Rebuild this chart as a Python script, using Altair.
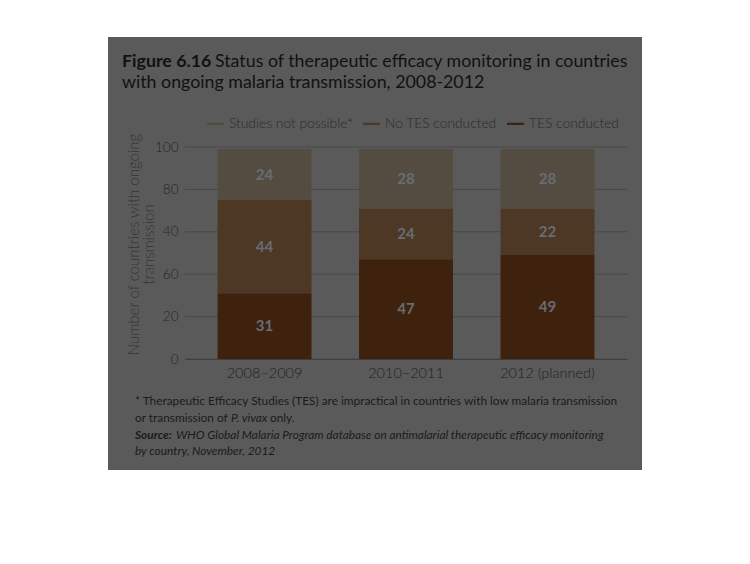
import altair as alt
import pandas as pd

# ---- data ----
periods = ["2008–2009", "2010–2011", "2012 (planned)"]
series_names = ["Studies not possible*", "No TES conducted", "TES conducted"]
not_possible = [24, 28, 28]
no_tes = [44, 24, 22]
tes_conducted = [31, 47, 49]
series_colors = ["#554c41", "#4c3824", "#3e220d"]
y_tick_values = [0, 20, 40, 60, 80, 100]
y_tick_labels = ["0", "20", "60", "40", "80", "100"]

rows = []
for i, p in enumerate(periods):
    for rank, (name, vals) in enumerate([("TES conducted", tes_conducted),
                                         ("No TES conducted", no_tes),
                                         ("Studies not possible*", not_possible)]):
        rows.append({"period": p, "series": name, "value": vals[i], "rank": rank})
df = pd.DataFrame(rows)
grid_df = pd.DataFrame({"v": y_tick_values})

label_expr = " : ".join(
    [f"datum.value == {v} ? '{l}'" for v, l in zip(y_tick_values, y_tick_labels)]
) + " : datum.label"

W, H = 442, 212
HUM = "Lato, Open Sans, sans-serif"

one = pd.DataFrame({"k": [0]})

yscale = alt.Scale(domain=[0, 100], nice=False)
yaxis = alt.Axis(values=y_tick_values, labelExpr=label_expr, grid=False,
                 domain=False, ticks=False, labelFont=HUM, labelFontSize=13.5,
                 labelFontWeight=300, labelColor="#262626", labelPadding=7,
                 title=["Number of countries with ongoing", "transmission"],
                 titleFont=HUM, titleFontSize=15, titleFontWeight=300,
                 titleColor="#353535", titleX=-44, titleY=97, titleLineHeight=15,
                 zindex=1)

panel = alt.Chart(one).mark_rect(color="#5a5a5a").encode(
    x=alt.value(-77), x2=alt.value(457), y=alt.value(-110), y2=alt.value(323)
)

grid = alt.Chart(grid_df).mark_rule(color="#484848", strokeWidth=1).encode(
    y=alt.Y("v:Q", axis=yaxis, scale=yscale),
    x=alt.value(0), x2=alt.value(W),
)

base = alt.Chart(df).transform_stack(
    stack="value", groupby=["period"], as_=["v0", "v1"],
    sort=[alt.SortField("rank", order="ascending")]
).transform_calculate(mid="(datum.v0 + datum.v1) / 2")

xaxis = alt.Axis(title=None, labelAngle=0, labelFont=HUM, labelFontSize=14.5,
                 labelFontWeight=300, labelColor="#1e1e1e", labelPadding=7, ticks=False,
                 domainColor="#3e3e3e", domainWidth=1, zindex=1)
xscale = alt.Scale(paddingInner=0.336, paddingOuter=0.23)

bars = base.mark_bar().encode(
    x=alt.X("period:N", sort=periods, scale=xscale, axis=xaxis),
    y=alt.Y("v0:Q", scale=yscale, axis=yaxis),
    y2="v1:Q",
    color=alt.Color("series:N", scale=alt.Scale(domain=series_names, range=series_colors),
                    legend=alt.Legend(orient="none", legendX=22, legendY=-32,
                                      direction="horizontal", title=None,
                                      symbolType="M-1,-0.13H1V0.13H-1Z", symbolSize=289,
                                      symbolStrokeWidth=0, labelFont=HUM,
                                      labelFontSize=13.8, labelFontWeight=300,
                                      labelColor="#2a2a2a",
                                      labelOffset=5, columnPadding=10, padding=0)),
)

labels = base.mark_text(font=HUM, fontSize=15, fontWeight="bold", color="#686c72").encode(
    x=alt.X("period:N", sort=periods, scale=xscale, axis=xaxis),
    y=alt.Y("mid:Q", scale=yscale, axis=yaxis),
    text="value:Q",
)


def txt(s, x, y, size, font, weight="normal", style="normal", color="#1a1a1a"):
    return alt.Chart(one).mark_text(
        text=s, align="left", baseline="alphabetic", font=font, fontSize=size,
        fontWeight=weight, fontStyle=style, color=color
    ).encode(x=alt.value(x), y=alt.value(y))


FS = 11.85
annos = [
    txt("Figure 6.16", -63, -80, 17.8, HUM, weight="bold", color="#111111"),
    txt("Status of therapeutic efficacy monitoring in countries", 30, -80, 17.8, HUM, color="#111111"),
    txt("with ongoing malaria transmission, 2008-2012", -63, -59, 17.8, HUM, color="#111111"),
    txt("* Therapeutic Efficacy Studies (TES) are impractical in countries with low malaria transmission",
        -50, 258, FS, HUM),
    txt("or transmission of", -50, 275, FS, HUM),
    txt("P. vivax", 46, 275, FS, HUM, style="italic"),
    txt("only.", 85, 275, FS, HUM),
    txt("Source:", -50, 292, FS, HUM, weight="bold", style="italic"),
    txt("WHO Global Malaria Program database on antimalarial therapeutic efficacy monitoring",
        -9, 292, FS, HUM, style="italic"),
    txt("by country, November, 2012", -50, 308, FS, HUM, style="italic"),
]

chart = alt.layer(panel, grid, bars, labels, *annos).properties(
    width=W, height=H,
    padding={"left": 100, "top": 29, "right": 0, "bottom": 0},
    background="white",
).configure_view(stroke=None)

chart.save("out.html", embed_options={"renderer": "svg", "actions": False})
